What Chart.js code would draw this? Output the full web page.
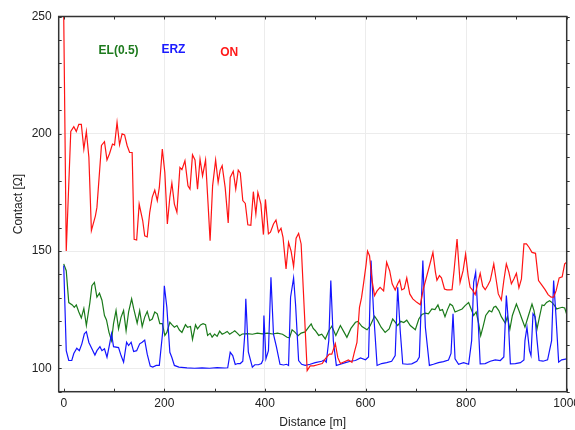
<!DOCTYPE html>
<html>
<head>
<meta charset="utf-8">
<script src="https://cdn.jsdelivr.net/npm/chart.js@4.4.1/dist/chart.umd.min.js"></script>
<style>
html, body { margin: 0; padding: 0; background: #fff; overflow: hidden; }
#wrap { width: 600px; height: 430px; }
</style>
</head>
<body>
<div id="wrap"><canvas id="chart" width="600" height="430"></canvas></div>
<script>
// === Data: distance [m] / contact [Ω] ===
const onDist = [0,5,14,20,25,30,35,40,45,50,55,63,66,75,81,86,91,97,101,106,111,116,121,126,131,136,140,145,150,157,161,166,171,176,181,186,190,196,201,206,211,215,220,225,231,235,241,247,251,256,261,266,271,276,282,287,291,296,302,307,311,315,321,327,331,337,342,347,351,356,361,366,372,377,382,386,392,397,401,407,411,417,422,427,432,436,442,447,452,457,462,467,472,484,490,497,505,514,520,528,533,540,545,550,558,566,573,578,583,588,592,596,601,604,608,613,618,623,629,636,642,648,653,659,664,668,672,677,682,688,694,702,709,715,722,729,734,739,742,747,751,757,762,767,772,776,782,788,794,799,804,808,813,818,823,828,833,838,843,848,855,859,864,870,875,880,885,890,895,900,905,910,915,920,925,931,938,944,951,957,963,969,974,979,985,991,996,1000];
const onVal  = [250,150,201,203,201,204,204,193.5,201,190,158.7,165,168.6,195,196.6,188.8,191.5,195.6,195.2,204.8,195.3,200,199.5,195,192,192,155,154.7,170,163,156.5,156,166.5,173,176,171.5,177,193.5,183.5,161.5,173,179,170,166.5,185.6,184.7,188.5,177.8,176.4,191,188.8,176.4,189.2,182,188.8,170,154.4,177.8,188.8,179.3,184.5,186.4,177,162,181.4,184,176.4,184.5,183.3,171.5,170.3,161.2,161,175.3,165.8,175,170,157,172,157.3,158,161.5,163.2,158,159.7,155.8,142.4,153.7,150,143.3,155.5,157.5,153,99,101,101,101.5,102,104,106,106,110.5,104.5,102,102.8,103.5,102.5,107,111,126,130,136,144,150,148,137.4,131,133,134.5,133,145.2,141.6,136,133.4,136,137.6,133.4,134,138.5,131.7,129.6,128.1,127.1,133.8,139.5,145.2,149.4,141,137.5,139.5,138.6,133.8,133.4,133.4,133.5,141.6,155.1,136.6,141.6,148.7,139.5,134.5,133.3,131.4,136,140.5,135,133.5,135.3,137.4,144.5,138.8,131.7,129.1,137.4,144.5,141,136,138.1,140.5,134.3,138.1,153,153,151.6,149.4,149,137.4,135.3,133.5,131.4,130.3,130.3,133.1,138.5,139,144.5,145.2];

const elDist = [0,5,10,17,21,25,30,35,40,45,52,56,61,66,71,76,81,85,90,95,99,104,109,114,119,124,129,135,139,146,151,156,161,166,171,176,181,186,191,196,201,205,211,215,220,225,230,235,242,246,252,256,262,266,272,277,282,286,291,295,300,305,310,315,320,325,330,335,340,345,350,355,365,375,385,395,405,415,425,435,444,449,454,459,466,472,480,487,492,496,500,507,513,520,527,533,541,550,557,563,571,580,585,593,603,609,618,624,631,639,647,654,659,664,670,676,682,689,699,706,712,719,725,732,738,744,748,753,758,763,768,773,778,785,792,798,805,810,815,820,825,829,834,839,846,851,855,859,865,870,878,882,887,892,900,905,911,917,924,931,935,941,946,951,955,960,966,971,976,980,986,991,996,1000];
const elVal  = [144.5,141.6,128,127,126,127,124,121.5,125.5,118.2,128,135.2,136.6,130.3,132,129,122.5,120.6,115.3,111.8,119,124.6,116.8,121.8,124.6,116,124,129.6,125.5,119.2,124.6,117.8,121.8,124.2,120.3,121,124,123.2,119,119,114,115.3,119.6,118.6,117.5,118.2,116.3,115.3,118.6,117.5,117.8,112.3,118.5,116.8,118.5,119,118.6,114,114.9,113.3,114.6,113.6,115.8,114.5,115,115.7,114.5,115.2,116,115,113.9,114.6,114.8,114.5,115,114.7,115,114.6,115,114.5,113.2,113,116.4,115.5,113.9,115,115.5,117.5,118.9,117,116.1,114,114.5,112.5,116,117.9,114,118.2,115.5,113.2,117,119.6,120,117.8,116.4,118,122.2,120.3,117.5,115.3,116.8,121,119.7,118.2,120,119.5,120.5,118.2,116.4,121,122.9,123.5,123.2,125.3,125,127,124.6,125,122,125,127.4,126.7,124,124.6,125.3,126.7,128,125.3,122.5,124,119,113.9,118,122.5,124.6,124,126,126.4,124.6,122,119.2,122,116.6,122.5,127.4,124.6,121,117.5,122.5,127.4,124.6,116.8,122,127,126.7,128.1,128.8,128,126.7,125.3,125.7,126,125.7,123];

const erzDist = [0,5,10,16,20,26,31,36,41,45,50,56,62,66,72,76,81,86,91,95,99,109,114,119,125,129,134,139,145,151,156,161,166,172,177,184,190,197,200,205,211,215,220,229,245,260,275,290,305,320,326,331,336,341,346,351,356,360,362,367,375,380,387,393,396,398,402,407,412,417,423,430,437,443,447,451,457,461,467,473,480,490,500,513,518,522,527,531,536,542,550,560,570,580,590,600,606,611,616,623,632,642,652,659,664,669,674,683,692,702,707,714,719,727,735,745,755,765,770,774,778,785,795,805,811,815,819,823,828,838,848,858,868,875,880,884,888,898,908,915,917,921,926,929,933,937,941,945,953,962,970,974,978,984,990,1000];
const erzVal  = [143.8,107.5,103.3,103.3,106.3,108.5,107.5,110.4,114.7,115.6,111,108.3,105.6,107.5,109.2,107.5,108.3,104.7,110.1,114.7,109.2,108.8,105.4,102.6,111.1,109.7,111.1,107.1,107.5,110.4,111.1,112,106,100.9,100.5,101.2,101.2,116,135.2,126,106.8,104.6,101.2,100.5,100.2,100,100.2,100,100.3,100.1,100.2,106.8,105.4,101.6,102,102,103,114.5,129.6,107,100.5,101.5,101.5,102,103.5,122.5,104,107.5,138.8,114.5,109,101.7,101.4,101.7,101.2,130.3,138.5,127,103.3,101.7,101.2,101.7,102.4,103,103.5,102.6,111.8,137.4,111.8,101.2,101.7,102.4,103,103.3,104.4,103.6,104.8,145.9,124,101.2,102,102.4,103,105.4,134.5,116,101.9,101.7,101.9,103,104.8,145.9,117.5,101.2,101.7,102.4,102.8,103.5,106.3,123.2,104,101.7,102.4,101.7,111.8,136.6,140.9,124.6,101.9,102,103,103.6,103.3,104.8,131,120,101.9,102,102.4,103.5,111.8,117.5,107.5,105.4,123.2,122,112,103.3,103,103.6,111.8,137.4,124.6,102.6,103.6,104];

const xTicks = [0, 200, 400, 600, 800, 1000];
const yTicks = [100, 150, 200, 250];

// подписи серий внутри графика (в координатах данных)
const seriesNotes = [
  { text: 'EL(0.5)', x: 109, y: 235.6, color: '#1d7a1d' },
  { text: 'ERZ',     x: 218, y: 236,   color: '#1a1aff' },
  { text: 'ON',      x: 329, y: 234.6, color: '#ff1a1a' }
];

const pts = (xs, ys) => xs.map((x, i) => ({ x, y: ys[i] }));

const FONT = "'Liberation Sans', Arial, sans-serif";
Chart.defaults.font.family = FONT;
Chart.defaults.color = '#222';

// === рамка, мелкие засечки и подписи ===
const framePlugin = {
  id: 'frame',
  afterDatasetsDraw(chart) {
    const { ctx, chartArea: a, scales: { x, y } } = chart;
    ctx.save();
    ctx.strokeStyle = '#333';
    ctx.lineWidth = 1;
    ctx.beginPath();
    for (let v = 90; v <= 250; v += 10) {
      const py = Math.round(y.getPixelForValue(v)) + .5;
      ctx.moveTo(a.left, py); ctx.lineTo(a.left + 3, py);
      ctx.moveTo(a.right, py); ctx.lineTo(a.right + 3, py);
    }
    for (let m = 0; m <= 1000; m += 100) {
      const px = Math.round(x.getPixelForValue(m)) + .5;
      ctx.moveTo(px, a.bottom); ctx.lineTo(px, a.bottom - 3);
      ctx.moveTo(px, a.top); ctx.lineTo(px, a.top + 3);
    }
    ctx.stroke();
    ctx.lineWidth = 1.5;
    ctx.strokeRect(a.left, a.top, a.right - a.left, a.bottom - a.top);

    ctx.font = 'bold 12px ' + FONT;
    ctx.textAlign = 'center';
    ctx.textBaseline = 'middle';
    seriesNotes.forEach(n => {
      ctx.fillStyle = n.color;
      ctx.fillText(n.text, x.getPixelForValue(n.x), y.getPixelForValue(n.y));
    });
    ctx.restore();
  }
};

new Chart(document.getElementById('chart'), {
  type: 'line',
  data: {
    datasets: [
      { label: 'ON', data: pts(onDist, onVal), borderColor: '#ff1414' },
      { label: 'ERZ', data: pts(erzDist, erzVal), borderColor: '#1414ff' },
      { label: 'EL(0.5)', data: pts(elDist, elVal), borderColor: '#1a7a1a' }
    ]
  },
  options: {
    responsive: false,
    animation: false,
    layout: { padding: { top: 16.5, right: 33.3, left: 0, bottom: 0 } },
    elements: {
      line: { borderWidth: 1.2, tension: 0 },
      point: { radius: 0 }
    },
    plugins: { legend: { display: false }, tooltip: { enabled: false } },
    scales: {
      x: {
        type: 'linear',
        min: -10, max: 1000,
        afterBuildTicks: s => { s.ticks = xTicks.map(value => ({ value })); },
        afterFit: s => { s.height = 38.3; },
        ticks: { font: { size: 12 }, padding: 5, maxRotation: 0, callback: v => String(v) },
        grid: {
          drawTicks: false,
          color: c => (c.tick && (c.tick.value === 0 || c.tick.value === 1000)) ? 'rgba(0,0,0,0)' : '#ececec'
        },
        border: { display: false },
        title: { display: true, text: 'Distance [m]', font: { size: 12 }, padding: { top: 0, bottom: 0 } }
      },
      y: {
        min: 90, max: 250,
        afterBuildTicks: s => { s.ticks = yTicks.map(value => ({ value })); },
        afterFit: s => { s.width = 58.7; },
        ticks: { font: { size: 12 }, padding: 7, callback: v => String(v) },
        grid: { drawTicks: false, color: '#ececec' },
        border: { display: false },
        title: { display: true, text: 'Contact [Ω]', font: { size: 12 }, padding: { top: 11.4, bottom: 0 } }
      }
    }
  },
  plugins: [framePlugin]
});
</script>
</body>
</html>
